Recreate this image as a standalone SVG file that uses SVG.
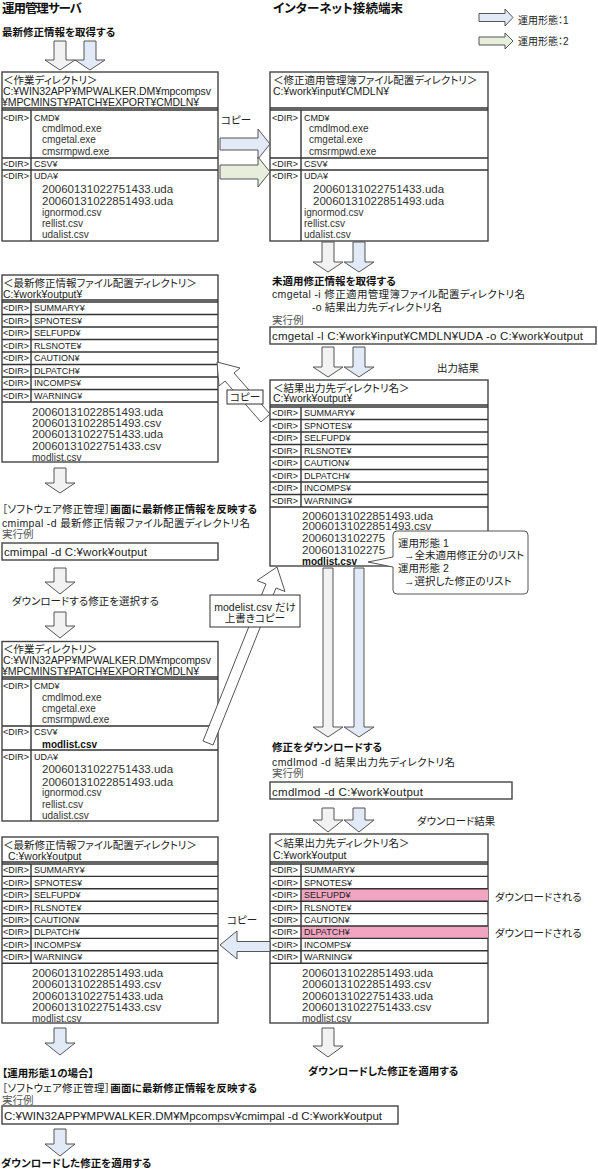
<svg xmlns="http://www.w3.org/2000/svg" width="598" height="1169" viewBox="0 0 598 1169">
<style>
text{font-family:"Liberation Sans","Noto Sans CJK JP",sans-serif;font-feature-settings:"palt";fill:#222;font-size:10.5px}
.h{font-weight:bold;font-size:12.5px;fill:#111}
.b{font-weight:bold;font-size:10.5px;fill:#111}
.s{font-size:9px;fill:#222}
.f{font-size:10px;fill:#333}
.n{font-size:11.5px;fill:#333}
.c{font-size:11.5px;fill:#222}
.m{font-weight:bold;font-size:10px;fill:#111}
.g{fill:#555}
.ctr{text-anchor:middle}
.box{fill:#fff;stroke:#444;stroke-width:1.4}
.ln{stroke:#333;stroke-width:1.4;fill:none}
.ar{stroke:#555;stroke-width:1}
.gr{fill:#f2f2f2}.bl{fill:#e1eaf6}.gn{fill:#e7eedc}.wh{fill:#fff}
.pk{fill:#f2a5c0}
</style>

<g id="title-server"><text class="h" x="2" y="12.5" textLength="80">運用管理サーバ</text></g>
<g id="title-terminal"><text class="h" x="273" y="12.5" textLength="130">インターネット接続端末</text></g>

<g id="legend">
<path class="ar bl" d="M479 13.5 H505 V9 L513 17.5 L505 26 V21.5 H479 Z"/>
<text x="518" y="23.5" style="font-size:10px">運用形態：1</text>
<path class="ar gn" d="M479 37 H505 V33 L513 41 L505 49 V45 H479 Z"/>
<text x="518" y="44.5" style="font-size:10px">運用形態：2</text>
</g>

<g id="step-get-latest"><text class="b" x="2" y="36">最新修正情報を取得する</text></g>

<!-- Box 1: work dir (server) -->
<g id="work-dir-1">
<rect class="box" x="2" y="72" width="216" height="169"/>
<path class="ln" d="M2 108 H218 M2 110 H218 M2 158 H218 M2 170 H218 M31 110 V241"/>
<text x="3" y="83.5">＜作業ディレクトリ＞</text>
<text x="3" y="94.5" textLength="208">C:¥WIN32APP¥MPWALKER.DM¥mpcompsv</text>
<text x="2" y="105.5" textLength="197">¥MPCMINST¥PATCH¥EXPORT¥CMDLN¥</text>
<text class="s" x="3" y="120.5">&lt;DIR&gt;</text><text class="s" x="34" y="120.5">CMD¥</text>
<text class="f" x="42" y="131.5">cmdlmod.exe</text>
<text class="f" x="42" y="143">cmgetal.exe</text>
<text class="f" x="42" y="154.5">cmsrmpwd.exe</text>
<text class="s" x="3" y="167">&lt;DIR&gt;</text><text class="s" x="34" y="167">CSV¥</text>
<text class="s" x="3" y="178.5">&lt;DIR&gt;</text><text class="s" x="34" y="178.5">UDA¥</text>
<text class="n" x="42" y="193">20060131022751433.uda</text>
<text class="n" x="42" y="204.5">20060131022851493.uda</text>
<text class="f" x="42" y="215.5">ignormod.csv</text>
<text class="f" x="42" y="226.5">rellist.csv</text>
<text class="f" x="42" y="237.5">udalist.csv</text>
</g>

<!-- Box 2: input dir (terminal) -->
<g id="input-dir">
<rect class="box" x="270" y="72" width="218" height="169"/>
<path class="ln" d="M270 108 H488 M270 110 H488 M270 158 H488 M270 170 H488 M301 110 V241"/>
<text x="273" y="83.5">＜修正適用管理簿ファイル配置ディレクトリ＞</text>
<text x="273" y="94.5">C:¥work¥input¥CMDLN¥</text>
<text class="s" x="272" y="120.5">&lt;DIR&gt;</text><text class="s" x="304" y="120.5">CMD¥</text>
<text class="f" x="309" y="131.5">cmdlmod.exe</text>
<text class="f" x="309" y="143">cmgetal.exe</text>
<text class="f" x="309" y="154.5">cmsrmpwd.exe</text>
<text class="s" x="272" y="167">&lt;DIR&gt;</text><text class="s" x="304" y="167">CSV¥</text>
<text class="s" x="272" y="178.5">&lt;DIR&gt;</text><text class="s" x="304" y="178.5">UDA¥</text>
<text class="n" x="313" y="193">20060131022751433.uda</text>
<text class="n" x="313" y="204.5">20060131022851493.uda</text>
<text class="f" x="304" y="215.5">ignormod.csv</text>
<text class="f" x="304" y="226.5">rellist.csv</text>
<text class="f" x="304" y="237.5">udalist.csv</text>
</g>

<g id="label-copy-1"><text x="221" y="123.5">コピー</text></g>

<!-- cmgetal step -->
<g id="step-cmgetal">
<text class="b" x="272" y="284.5">未適用修正情報を取得する</text>
<text x="272" y="298" textLength="253">cmgetal -i 修正適用管理簿ファイル配置ディレクトリ名</text>
<text x="312" y="311" textLength="130">-o 結果出力先ディレクトリ名</text>
<text class="g" x="272" y="324">実行例</text>
<rect class="box" x="270" y="327" width="326" height="17"/>
<text class="c" x="272" y="340" textLength="311">cmgetal -l C:¥work¥input¥CMDLN¥UDA -o C:¥work¥output</text>
</g>
<g id="label-output"><text x="437" y="372">出力結果</text></g>

<!-- Box 4: latest info dir (server) -->
<g id="latest-dir-1">
<rect class="box" x="2" y="275" width="216" height="187"/>
<path class="ln" d="M2 300 H218 M2 302 H218 M2 314.5 H218 M2 327 H218 M2 339.5 H218 M2 352 H218 M2 364.5 H218 M2 377 H218 M2 389.5 H218 M2 402 H218 M31 302 V402"/>
<text x="3" y="286.5">＜最新修正情報ファイル配置ディレクトリ＞</text>
<text x="3" y="298">C:¥work¥output¥</text>
<text class="s" x="3" y="311.4">&lt;DIR&gt;</text><text class="s" x="34" y="311.4">SUMMARY¥</text>
<text class="s" x="3" y="323.9">&lt;DIR&gt;</text><text class="s" x="34" y="323.9">SPNOTES¥</text>
<text class="s" x="3" y="336.4">&lt;DIR&gt;</text><text class="s" x="34" y="336.4">SELFUPD¥</text>
<text class="s" x="3" y="348.9">&lt;DIR&gt;</text><text class="s" x="34" y="348.9">RLSNOTE¥</text>
<text class="s" x="3" y="361.4">&lt;DIR&gt;</text><text class="s" x="34" y="361.4">CAUTION¥</text>
<text class="s" x="3" y="373.9">&lt;DIR&gt;</text><text class="s" x="34" y="373.9">DLPATCH¥</text>
<text class="s" x="3" y="386.4">&lt;DIR&gt;</text><text class="s" x="34" y="386.4">INCOMPS¥</text>
<text class="s" x="3" y="398.9">&lt;DIR&gt;</text><text class="s" x="34" y="398.9">WARNING¥</text>
<text class="n" x="32" y="415.7">20060131022851493.uda</text>
<text class="n" x="32" y="427.3">20060131022851493.csv</text>
<text class="n" x="32" y="438.3">20060131022751433.uda</text>
<text class="n" x="32" y="450">20060131022751433.csv</text>
<text class="f" x="32" y="461">modlist.csv</text>
</g>

<!-- Box 3: result dir (terminal) -->
<g id="result-dir-1">
<rect class="box" x="270" y="380" width="218" height="186"/>
<path class="ln" d="M270 405 H488 M270 407 H488 M270 419.5 H488 M270 432 H488 M270 444.5 H488 M270 457 H488 M270 469.5 H488 M270 482 H488 M270 494.5 H488 M270 507 H488 M301 407 V507"/>
<text x="273" y="391.5">＜結果出力先ディレクトリ名＞</text>
<text x="273" y="401.5">C:¥work¥output¥</text>
<text class="s" x="272" y="416.4">&lt;DIR&gt;</text><text class="s" x="304" y="416.4">SUMMARY¥</text>
<text class="s" x="272" y="428.9">&lt;DIR&gt;</text><text class="s" x="304" y="428.9">SPNOTES¥</text>
<text class="s" x="272" y="441.4">&lt;DIR&gt;</text><text class="s" x="304" y="441.4">SELFUPD¥</text>
<text class="s" x="272" y="453.9">&lt;DIR&gt;</text><text class="s" x="304" y="453.9">RLSNOTE¥</text>
<text class="s" x="272" y="466.4">&lt;DIR&gt;</text><text class="s" x="304" y="466.4">CAUTION¥</text>
<text class="s" x="272" y="478.9">&lt;DIR&gt;</text><text class="s" x="304" y="478.9">DLPATCH¥</text>
<text class="s" x="272" y="491.4">&lt;DIR&gt;</text><text class="s" x="304" y="491.4">INCOMPS¥</text>
<text class="s" x="272" y="503.9">&lt;DIR&gt;</text><text class="s" x="304" y="503.9">WARNING¥</text>
<text class="n" x="302" y="519.5">20060131022851493.uda</text>
<text class="n" x="302" y="529.5">20060131022851493.csv</text>
<text class="n" x="302" y="541.5">2006013102275</text>
<text class="n" x="302" y="553.5">2006013102275</text>
<text class="m" x="302" y="565">modlist.csv</text>
</g>

<!-- cmimpal step -->
<g id="step-cmimpal">
<text class="b" x="2" y="513" textLength="255"><tspan style="font-weight:normal">［ソフトウェア修正管理］</tspan>画面に最新修正情報を反映する</text>
<text x="2" y="527" textLength="248">cmimpal -d 最新修正情報ファイル配置ディレクトリ名</text>
<text class="g" x="2" y="538">実行例</text>
<rect class="box" x="2" y="543" width="216" height="17"/>
<text class="c" x="4" y="555.5" textLength="143">cmimpal -d C:¥work¥output</text>
</g>
<g id="step-select"><text x="12" y="605">ダウンロードする修正を選択する</text></g>

<!-- Box 5: work dir 2 -->
<g id="work-dir-2">
<rect class="box" x="2" y="641.5" width="216" height="179.5"/>
<path class="ln" d="M2 677 H218 M2 679 H218 M2 726 H218 M2 750 H218 M31 679 V821"/>
<text x="3" y="652.5">＜作業ディレクトリ＞</text>
<text x="3" y="663.5" textLength="208">C:¥WIN32APP¥MPWALKER.DM¥mpcompsv</text>
<text x="2" y="674.5" textLength="197">¥MPCMINST¥PATCH¥EXPORT¥CMDLN¥</text>
<text class="s" x="3" y="688.5">&lt;DIR&gt;</text><text class="s" x="34" y="688.5">CMD¥</text>
<text class="f" x="42" y="700.8">cmdlmod.exe</text>
<text class="f" x="42" y="711.8">cmgetal.exe</text>
<text class="f" x="42" y="723.3">cmsrmpwd.exe</text>
<text class="s" x="3" y="735">&lt;DIR&gt;</text><text class="s" x="34" y="735">CSV¥</text>
<text class="m" x="42" y="747.5">modlist.csv</text>
<text class="s" x="3" y="759.5">&lt;DIR&gt;</text><text class="s" x="34" y="759.5">UDA¥</text>
<text class="n" x="42" y="773.3">20060131022751433.uda</text>
<text class="n" x="42" y="785.7">20060131022851493.uda</text>
<text class="f" x="42" y="796.2">ignormod.csv</text>
<text class="f" x="42" y="807.5">rellist.csv</text>
<text class="f" x="42" y="819">udalist.csv</text>
</g>

<!-- cmdlmod step -->
<g id="step-cmdlmod">
<text class="b" x="272" y="750.7">修正をダウンロードする</text>
<text x="272" y="765.5" textLength="183">cmdlmod -d 結果出力先ディレクトリ名</text>
<text class="g" x="272" y="777">実行例</text>
<rect class="box" x="270" y="782" width="242" height="17"/>
<text class="c" x="272" y="795.5" textLength="151">cmdlmod -d C:¥work¥output</text>
</g>
<g id="label-download-result"><text x="417" y="824.5">ダウンロード結果</text></g>

<!-- Box 7: latest dir 2 -->
<g id="latest-dir-2">
<rect class="box" x="2" y="837" width="216" height="186"/>
<path class="ln" d="M2 862 H218 M2 864 H218 M2 876.4 H218 M2 888.8 H218 M2 901.2 H218 M2 913.6 H218 M2 926 H218 M2 938.4 H218 M2 950.8 H218 M2 963.2 H218 M31 864 V963.2"/>
<text x="3" y="848.5">＜最新修正情報ファイル配置ディレクトリ＞</text>
<text x="8" y="860">C:¥work¥output</text>
<text class="s" x="3" y="873.3">&lt;DIR&gt;</text><text class="s" x="34" y="873.3">SUMMARY¥</text>
<text class="s" x="3" y="885.7">&lt;DIR&gt;</text><text class="s" x="34" y="885.7">SPNOTES¥</text>
<text class="s" x="3" y="898.1">&lt;DIR&gt;</text><text class="s" x="34" y="898.1">SELFUPD¥</text>
<text class="s" x="3" y="910.5">&lt;DIR&gt;</text><text class="s" x="34" y="910.5">RLSNOTE¥</text>
<text class="s" x="3" y="922.9">&lt;DIR&gt;</text><text class="s" x="34" y="922.9">CAUTION¥</text>
<text class="s" x="3" y="935.3">&lt;DIR&gt;</text><text class="s" x="34" y="935.3">DLPATCH¥</text>
<text class="s" x="3" y="947.7">&lt;DIR&gt;</text><text class="s" x="34" y="947.7">INCOMPS¥</text>
<text class="s" x="3" y="960.1">&lt;DIR&gt;</text><text class="s" x="34" y="960.1">WARNING¥</text>
<text class="n" x="32" y="977.3">20060131022851493.uda</text>
<text class="n" x="32" y="988.3">20060131022851493.csv</text>
<text class="n" x="32" y="999.5">20060131022751433.uda</text>
<text class="n" x="32" y="1010.7">20060131022751433.csv</text>
<text class="f" x="32" y="1021.5">modlist.csv</text>
</g>

<!-- Box 6: result dir 2 -->
<g id="result-dir-2">
<rect class="box" x="270" y="834" width="218" height="189"/>
<rect class="pk" x="301" y="888.8" width="187" height="12.4"/>
<rect class="pk" x="301" y="926" width="187" height="12.4"/>
<path class="ln" d="M270 862 H488 M270 864 H488 M270 876.4 H488 M270 888.8 H488 M270 901.2 H488 M270 913.6 H488 M270 926 H488 M270 938.4 H488 M270 950.8 H488 M270 963.2 H488 M301 864 V963.2"/>
<text x="273" y="847">＜結果出力先ディレクトリ名＞</text>
<text x="273" y="858.5">C:¥work¥output</text>
<text class="s" x="272" y="873.3">&lt;DIR&gt;</text><text class="s" x="304" y="873.3">SUMMARY¥</text>
<text class="s" x="272" y="885.7">&lt;DIR&gt;</text><text class="s" x="304" y="885.7">SPNOTES¥</text>
<text class="s" x="272" y="898.1">&lt;DIR&gt;</text><text class="s" x="304" y="898.1">SELFUPD¥</text>
<text class="s" x="272" y="910.5">&lt;DIR&gt;</text><text class="s" x="304" y="910.5">RLSNOTE¥</text>
<text class="s" x="272" y="922.9">&lt;DIR&gt;</text><text class="s" x="304" y="922.9">CAUTION¥</text>
<text class="s" x="272" y="935.3">&lt;DIR&gt;</text><text class="s" x="304" y="935.3">DLPATCH¥</text>
<text class="s" x="272" y="947.7">&lt;DIR&gt;</text><text class="s" x="304" y="947.7">INCOMPS¥</text>
<text class="s" x="272" y="960.1">&lt;DIR&gt;</text><text class="s" x="304" y="960.1">WARNING¥</text>
<text class="n" x="302" y="977.3">20060131022851493.uda</text>
<text class="n" x="302" y="988.3">20060131022851493.csv</text>
<text class="n" x="302" y="999.5">20060131022751433.uda</text>
<text class="n" x="302" y="1010.7">20060131022751433.csv</text>
<text class="f" x="302" y="1021.5">modlist.csv</text>
</g>
<g id="label-downloaded-1"><text x="495" y="900.5">ダウンロードされる</text></g>
<g id="label-downloaded-2"><text x="495" y="937">ダウンロードされる</text></g>
<g id="label-copy-3"><text x="227" y="923.5">コピー</text></g>

<!-- final steps -->
<g id="step-mode1">
<text class="b" x="2" y="1077">【運用形態１の場合】</text>
<text class="b" x="2" y="1092" textLength="255"><tspan style="font-weight:normal">［ソフトウェア修正管理］</tspan>画面に最新修正情報を反映する</text>
<text class="g" x="2" y="1104">実行例</text>
<rect class="box" x="2" y="1106" width="396" height="18"/>
<text class="c" x="4" y="1119.5" textLength="378">C:¥WIN32APP¥MPWALKER.DM¥Mpcompsv¥cmimpal -d C:¥work¥output</text>
</g>
<g id="step-apply-left"><text class="b" x="1" y="1166.5">ダウンロードした修正を適用する</text></g>
<g id="step-apply-right"><text class="b" x="308" y="1074.5">ダウンロードした修正を適用する</text></g>

<!-- connectors -->
<g id="connectors">
<path class="ar gr" d="M54 41 H66 V60 H75 L60 70 L45 60 H54 Z"/>
<path class="ar bl" d="M84 41 H96 V60 H105 L90 70 L75 60 H84 Z"/>
<path class="ar bl" d="M220 138 H258 V129 L270 144 L258 159 V150 H220 Z"/>
<path class="ar gn" d="M220 165 H258 V157 L270 172 L258 187 V179 H220 Z"/>
<path class="ar gr" d="M322 242 H334 V262 H343 L328 272 L313 262 H322 Z"/>
<path class="ar bl" d="M353 242 H365 V262 H374 L359 272 L344 262 H353 Z"/>
<path class="ar gr" d="M322 347 H334 V367 H343 L328 377 L313 367 H322 Z"/>
<path class="ar bl" d="M353 347 H365 V367 H374 L359 377 L344 367 H353 Z"/>
<path class="ar wh" d="M217 362 L240 368 L234 373 L270 414 L261 422 L225 381 L219 386 Z"/>
<path class="ar gr" d="M54 468 H66 V483 H75 L60 493 L45 483 H54 Z"/>
<path class="ar gr" d="M54 568 H66 V582 H75 L60 594 L45 582 H54 Z"/>
<path class="ar gr" d="M54 612 H66 V626 H75 L60 638 L45 626 H54 Z"/>
<path class="ar gr" d="M323 568 H333 V727 H343 L328 737 L313 727 H323 Z"/>
<path class="ar bl" d="M354 568 H364 V727 H374 L359 737 L344 727 H354 Z"/>
<path class="ar wh" d="M277 567 L285 591.5 L276 588 L213 745 L203 741 L266 584 L257 580.5 Z"/>
<path class="ar gr" d="M322 808 H334 V820 H343 L328 832 L313 820 H322 Z"/>
<path class="ar bl" d="M353 808 H365 V820 H374 L359 832 L344 820 H353 Z"/>
<path class="ar bl" d="M270 941.5 H237 V931 L220 945 L237 959 V951.5 H270 Z"/>
<path class="ar bl" d="M54 1028 H66 V1043 H75 L60 1055 L45 1043 H54 Z"/>
<path class="ar gr" d="M322 1028 H334 V1046 H343 L328 1057 L313 1046 H322 Z"/>
<path class="ar bl" d="M54 1129 H66 V1144 H75 L60 1156 L45 1144 H54 Z"/>
</g>

<!-- label boxes over connectors -->
<g id="label-copy-2">
<rect x="227" y="390" width="36" height="14" fill="#fff" stroke="#333" stroke-width="1"/>
<text class="ctr" x="245" y="401">コピー</text>
</g>
<g id="label-overwrite">
<rect x="210" y="595" width="90" height="32" fill="#fff" stroke="#333" stroke-width="1"/>
<text class="ctr" x="255" y="610.5">modelist.csv だけ</text>
<text class="ctr" x="255" y="621.5">上書きコピー</text>
</g>
<g id="callout">
<path d="M397 531 H524 Q528 531 528 535 V590 Q528 594 524 594 H397 Q393 594 393 590 V567 L368 562 L393 557 V535 Q393 531 397 531 Z" fill="#fff" stroke="#555" stroke-width="1"/>
<text x="398" y="546.5">運用形態 1</text>
<text x="404" y="559">→全未適用修正分のリスト</text>
<text x="398" y="571.5">運用形態 2</text>
<text x="404" y="585">→選択した修正のリスト</text>
</g>
</svg>
